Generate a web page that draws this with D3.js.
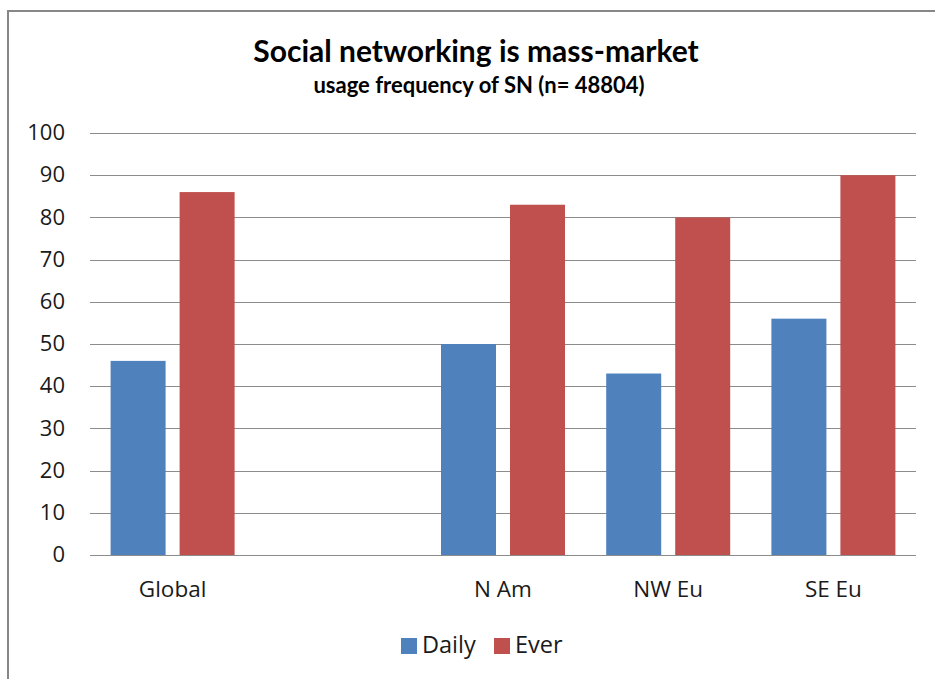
<!DOCTYPE html>
<html><head><meta charset="utf-8">
<script src="https://cdn.jsdelivr.net/npm/d3@7"></script>
<style>body{margin:0;background:#fff}svg{display:block;font-family:"Open Sans",Lato,sans-serif}</style>
</head><body><svg id="c" width="935" height="679"></svg>
<script>
const categories = ["Global", "", "N Am", "NW Eu", "SE Eu"];
const seriesNames = ["Daily", "Ever"];
const daily = [46, null, 50, 43, 56];
const ever = [86, null, 83, 80, 90];
const yTicks = [0, 10, 20, 30, 40, 50, 60, 70, 80, 90, 100];
const colors = ["#4F81BD", "#C0504D"];

const svg = d3.select("#c");
// frame
svg.append("path").attr("d", "M8,679 L8,11 L935,11").attr("fill", "none").attr("stroke", "#878787").attr("stroke-width", 2);

const x0 = d3.scaleBand().domain(d3.range(categories.length)).range([90, 916]);
const y = d3.scaleLinear().domain([0, 100]).range([555, 133]);

// gridlines
svg.append("g").selectAll("line").data(yTicks).join("line")
  .attr("x1", 90).attr("x2", 916)
  .attr("y1", d => Math.round(y(d)) + 0.5).attr("y2", d => Math.round(y(d)) + 0.5)
  .attr("stroke", "#8c8c8c").attr("stroke-width", 1);

// y labels
const yAxis = d3.axisLeft(y).tickValues(yTicks).tickSize(0).tickPadding(0);
const ga = svg.append("g").attr("transform", "translate(65,0)").call(yAxis);
ga.select(".domain").remove();
ga.selectAll("text").attr("font-size", 22).attr("fill", "#1a1a1a").attr("font-family", "'Open Sans', Lato, sans-serif").attr("dy", "0.3em");

// bars
const barW = 55, gap = 14;
const series = [daily, ever];
series.forEach((vals, si) => {
  svg.append("g").selectAll("rect").data(vals.map((v, i) => ({v, i})).filter(d => d.v != null)).join("rect")
    .attr("x", d => x0(d.i) + x0.bandwidth() / 2 - (barW + gap / 2) + si * (barW + gap))
    .attr("width", barW)
    .attr("y", d => y(d.v))
    .attr("height", d => y(0) - y(d.v))
    .attr("fill", colors[si]);
});

// category labels
svg.append("g").selectAll("text").data(categories).join("text")
  .attr("x", (d, i) => x0(i) + x0.bandwidth() / 2)
  .attr("y", 597)
  .attr("text-anchor", "middle").attr("font-size", 22.5).attr("fill", "#1a1a1a")
  .text(d => d);

// title
svg.append("text").attr("x", 476).attr("y", 62).attr("text-anchor", "middle")
  .attr("font-size", 30).attr("font-weight", "bold").attr("fill", "#000")
  .attr("font-family", "Lato, sans-serif")
  .text("Social networking is mass-market");
svg.append("text").attr("x", 479).attr("y", 93).attr("text-anchor", "middle")
  .attr("font-size", 22).attr("font-weight", "bold").attr("fill", "#000")
  .attr("font-family", "Lato, sans-serif")
  .text("usage frequency of SN (n= 48804)");

// legend
const leg = [{name: seriesNames[0], x: 401}, {name: seriesNames[1], x: 494}];
leg.forEach((l, i) => {
  svg.append("rect").attr("x", l.x).attr("y", 638).attr("width", 16).attr("height", 16).attr("fill", colors[i]);
  svg.append("text").attr("x", l.x + 21).attr("y", 653).attr("font-size", 23.5).attr("fill", "#1a1a1a").text(l.name);
});
</script></body></html>
